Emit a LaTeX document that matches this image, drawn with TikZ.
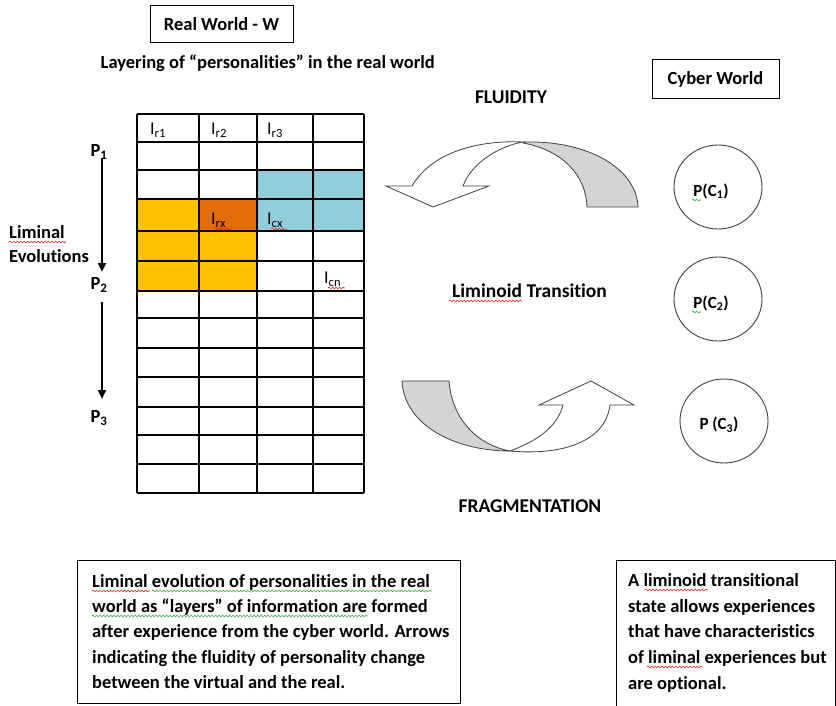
\documentclass[tikz,border=0pt]{standalone}
\usepackage{fontspec}
\setmainfont{Carlito}[Ligatures=NoCommon]
\usetikzlibrary{arrows.meta,shapes.geometric,decorations.pathmorphing}
\definecolor{cyel}{HTML}{FFC000}
\definecolor{corg}{HTML}{E36C09}
\definecolor{cblu}{HTML}{92CDDC}
\definecolor{cgray}{HTML}{D4D4D4}
\definecolor{sqred}{HTML}{E02020}
\definecolor{sqgreen}{HTML}{30B030}
\begin{document}
\begin{tikzpicture}[x=1pt,y=-1pt,
  txt/.style={font=\fontsize{18.5}{22}\selectfont\bfseries, inner sep=0pt},
  bigtxt/.style={font=\fontsize{19.5}{23}\selectfont\bfseries, inner sep=0pt},
  ctxt/.style={font=\fontsize{17}{20}\selectfont\bfseries, inner sep=0pt},
  lbl/.style={font=\fontsize{18}{21}\selectfont, inner sep=0pt},
  frame/.style={draw, line width=1pt},
  gridline/.style={line width=1.1pt},
  thickbox/.style={line width=2.6pt},
  bigarrow/.style={draw=black!75, line width=0.8pt, line join=miter},
  evo/.style={line width=2.6pt, -{Triangle[width=8pt,length=9pt]}},
  cyc/.style={draw=black!75, line width=0.9pt, ellipse, minimum width=88pt, minimum height=84pt, inner sep=0pt},
  squig/.style={decorate, decoration={snake, amplitude=0.9pt, segment length=3.5pt}, line width=0.6pt},
]
\path[use as bounding box] (0,0) rectangle (836,706);

% ---- grid (layers) ----
\fill[cyel] (137,199) rectangle (199,291);
\fill[cyel] (199,231) rectangle (257,291);
\fill[corg] (199,199) rectangle (257,231);
\fill[cblu] (257,170) rectangle (364,231);
\foreach \y in {114,142,170,199,231,261,291,318,348,377,407,435,464,493}
  \draw[gridline] (137,\y) -- (364,\y);
\foreach \x in {137,199,257,313,364}
  \draw[gridline] (\x,114) -- (\x,493);
\draw[thickbox] (257,170) rectangle (364,231);
\draw[thickbox] (199,199) rectangle (257,231);

\node[lbl, anchor=west] (ir1) at (150,130) {I\textsubscript{r1}};
\node[lbl, anchor=west] (ir2) at (211,130) {I\textsubscript{r2}};
\node[lbl, anchor=west] (ir3) at (267,130) {I\textsubscript{r3}};
\node[lbl, anchor=west] (irx) at (211,220) {I\textsubscript{rx}};
\node[lbl, anchor=west] (icx) at (267,220) {I\textsubscript{cx}};
\node[lbl, anchor=west] (icn) at (324,279) {I\textsubscript{cn}};

% ---- titles ----
\node[frame, txt, minimum width=143pt, minimum height=37pt] (rw) at (221.5,24.5) {Real World - W};
\node[txt, anchor=east] (layer) at (435,63) {Layering of “personalities” in the real world};
\node[frame, txt, minimum width=127pt, minimum height=39pt] (cw) at (715.5,79.5) {Cyber World};
\node[bigtxt] (flu) at (511,97) {FLUIDITY};
\node[bigtxt] (lt) at (529.5,291) {Liminoid Transition};
\node[bigtxt] (frag) at (530,506) {FRAGMENTATION};

% ---- liminal evolutions ----
\node[txt] (p1) at (99,152) {P\textsubscript{1}};
\node[txt] (p2) at (99,285) {P\textsubscript{2}};
\node[txt] (p3) at (99,418) {P\textsubscript{3}};
\node[txt, anchor=west] (lim) at (9,232) {Liminal};
\node[txt, anchor=west] (evol) at (9,256) {Evolutions};
\coordinate (e1a) at (102,158);
\coordinate (e1b) at (102,272);
\coordinate (e2a) at (102,302);
\coordinate (e2b) at (102,399);
\draw[evo] (e1a) -- (e1b);
\draw[evo] (e2a) -- (e2b);

% ---- cyber world personalities ----
\node[cyc] (c1) at (718,187) {};
\node[cyc] (c2) at (718,299) {};
\node[cyc] (c3) at (724,421) {};
\node[ctxt] (pc1) at (711,191) {P(C\textsubscript{1})};
\node[ctxt] (pc2) at (711,303) {P(C\textsubscript{2})};
\node[ctxt] (pc3) at (719,425) {P (C\textsubscript{3})};

% ---- curved arrows ----
\filldraw[bigarrow, fill=cgray] (523,142) .. controls (590,140) and (637,170) .. (638,207)
  -- (587,207) .. controls (586,175) and (562,150) .. (523,143) -- cycle;
\filldraw[bigarrow, fill=white] (412,186) .. controls (432,152) and (478,140) .. (523,142)
  .. controls (500,146) and (472,162) .. (463,186) -- (489,186) -- (433,207) -- (386,186) -- cycle;

\filldraw[bigarrow, fill=cgray] (402,381) -- (449,381) .. controls (452,420) and (478,445) .. (510,451)
  .. controls (455,451) and (404,425) .. (402,381) -- cycle;
\filldraw[bigarrow, fill=white] (510,451) .. controls (540,440) and (558,425) .. (563,405)
  -- (539,405) -- (591,381) -- (634,405) -- (610,405)
  .. controls (606,440) and (565,456) .. (510,451) -- cycle;

% ---- text boxes ----
\draw[frame] (77,560) rectangle (460,703);
\draw[frame] (616,720) -- (616,560) -- (835,560) -- (835,720);
\foreach \t [count=\i] in {Liminal evolution of personalities in the real,
  world as “layers” of information are formed,
  after experience from the cyber world. Arrows,
  indicating the fluidity of personality change,
  between the virtual and the real.}
  \node[txt, anchor=base west] (bl\i) at (92,562+25.3*\i) {\t};
\foreach \t [count=\i] in {A liminoid transitional,
  state allows experiences,
  that have characteristics,
  of liminal experiences but,
  are optional.}
  \node[txt, anchor=base west] (br\i) at (628,561+25.6*\i) {\t};

% ---- spell-check underlines ----
\draw[squig, sqred] (9,242) -- (66,242);
\draw[squig, sqred] (449,301) -- (522,301);
\draw[squig, sqred] (215,229) -- (231,229);
\draw[squig, sqred] (271,229) -- (287,229);
\draw[squig, sqred] (328,288) -- (345,288);
\draw[squig, sqred] (92,591) -- (150,591);
\draw[squig, sqgreen] (152,591) -- (432,591);
\draw[squig, sqgreen] (92,616) -- (368,616);
\draw[squig, sqred] (645,590) -- (708,590);
\draw[squig, sqred] (647,667) -- (702,667);
\draw[squig, sqgreen] (692,200) -- (701,200);
\draw[squig, sqgreen] (692,312) -- (701,312);
\end{tikzpicture}
\end{document}
